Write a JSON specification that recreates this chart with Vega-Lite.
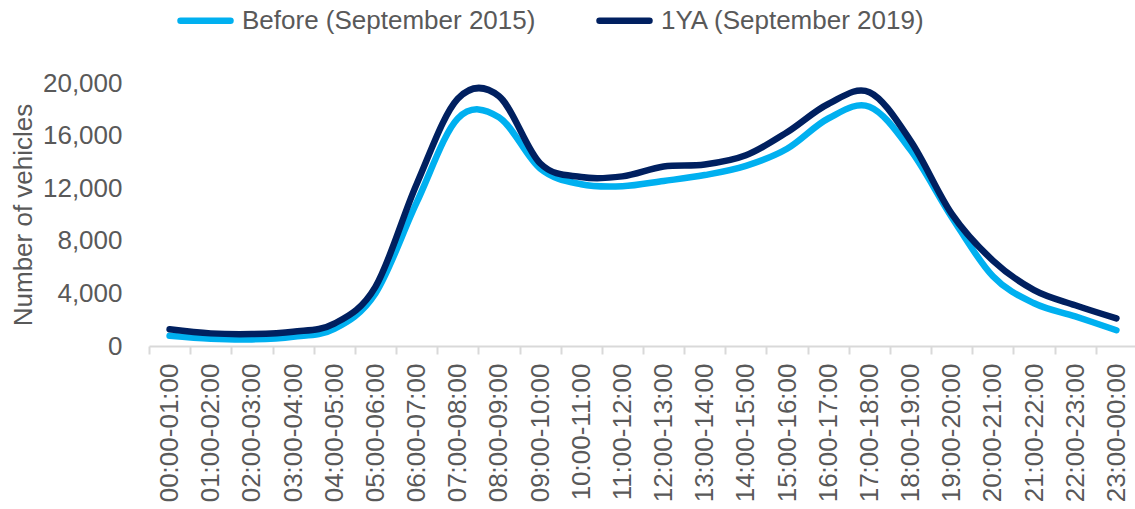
{
  "$schema": "https://vega.github.io/schema/vega-lite/v6.json",
  "width": 986,
  "height": 263,
  "autosize": "none",
  "padding": {"left": 149, "top": 83, "right": 0, "bottom": 163},
  "background": "white",
  "config": {"view": {"stroke": null}, "font": "Liberation Sans"},
  "datasets": {
    "traffic": [
      {"hour": "00:00-01:00", "series": "Before (September 2015)", "vehicles": 780},
      {"hour": "01:00-02:00", "series": "Before (September 2015)", "vehicles": 550},
      {"hour": "02:00-03:00", "series": "Before (September 2015)", "vehicles": 500},
      {"hour": "03:00-04:00", "series": "Before (September 2015)", "vehicles": 700},
      {"hour": "04:00-05:00", "series": "Before (September 2015)", "vehicles": 1300},
      {"hour": "05:00-06:00", "series": "Before (September 2015)", "vehicles": 4000},
      {"hour": "06:00-07:00", "series": "Before (September 2015)", "vehicles": 10900},
      {"hour": "07:00-08:00", "series": "Before (September 2015)", "vehicles": 17300},
      {"hour": "08:00-09:00", "series": "Before (September 2015)", "vehicles": 17400},
      {"hour": "09:00-10:00", "series": "Before (September 2015)", "vehicles": 13500},
      {"hour": "10:00-11:00", "series": "Before (September 2015)", "vehicles": 12300},
      {"hour": "11:00-12:00", "series": "Before (September 2015)", "vehicles": 12150},
      {"hour": "12:00-13:00", "series": "Before (September 2015)", "vehicles": 12550},
      {"hour": "13:00-14:00", "series": "Before (September 2015)", "vehicles": 13000},
      {"hour": "14:00-15:00", "series": "Before (September 2015)", "vehicles": 13700},
      {"hour": "15:00-16:00", "series": "Before (September 2015)", "vehicles": 15000},
      {"hour": "16:00-17:00", "series": "Before (September 2015)", "vehicles": 17300},
      {"hour": "17:00-18:00", "series": "Before (September 2015)", "vehicles": 18200},
      {"hour": "18:00-19:00", "series": "Before (September 2015)", "vehicles": 14900},
      {"hour": "19:00-20:00", "series": "Before (September 2015)", "vehicles": 9800},
      {"hour": "20:00-21:00", "series": "Before (September 2015)", "vehicles": 5300},
      {"hour": "21:00-22:00", "series": "Before (September 2015)", "vehicles": 3250},
      {"hour": "22:00-23:00", "series": "Before (September 2015)", "vehicles": 2250},
      {"hour": "23:00-00:00", "series": "Before (September 2015)", "vehicles": 1200},
      {"hour": "00:00-01:00", "series": "1YA (September 2019)", "vehicles": 1270},
      {"hour": "01:00-02:00", "series": "1YA (September 2019)", "vehicles": 960},
      {"hour": "02:00-03:00", "series": "1YA (September 2019)", "vehicles": 910},
      {"hour": "03:00-04:00", "series": "1YA (September 2019)", "vehicles": 1090},
      {"hour": "04:00-05:00", "series": "1YA (September 2019)", "vehicles": 1700},
      {"hour": "05:00-06:00", "series": "1YA (September 2019)", "vehicles": 4500},
      {"hour": "06:00-07:00", "series": "1YA (September 2019)", "vehicles": 12300},
      {"hour": "07:00-08:00", "series": "1YA (September 2019)", "vehicles": 18800},
      {"hour": "08:00-09:00", "series": "1YA (September 2019)", "vehicles": 19000},
      {"hour": "09:00-10:00", "series": "1YA (September 2019)", "vehicles": 13900},
      {"hour": "10:00-11:00", "series": "1YA (September 2019)", "vehicles": 12850},
      {"hour": "11:00-12:00", "series": "1YA (September 2019)", "vehicles": 12900},
      {"hour": "12:00-13:00", "series": "1YA (September 2019)", "vehicles": 13650},
      {"hour": "13:00-14:00", "series": "1YA (September 2019)", "vehicles": 13800},
      {"hour": "14:00-15:00", "series": "1YA (September 2019)", "vehicles": 14500},
      {"hour": "15:00-16:00", "series": "1YA (September 2019)", "vehicles": 16250},
      {"hour": "16:00-17:00", "series": "1YA (September 2019)", "vehicles": 18400},
      {"hour": "17:00-18:00", "series": "1YA (September 2019)", "vehicles": 19300},
      {"hour": "18:00-19:00", "series": "1YA (September 2019)", "vehicles": 15600},
      {"hour": "19:00-20:00", "series": "1YA (September 2019)", "vehicles": 10050},
      {"hour": "20:00-21:00", "series": "1YA (September 2019)", "vehicles": 6500},
      {"hour": "21:00-22:00", "series": "1YA (September 2019)", "vehicles": 4250},
      {"hour": "22:00-23:00", "series": "1YA (September 2019)", "vehicles": 3100},
      {"hour": "23:00-00:00", "series": "1YA (September 2019)", "vehicles": 2100}
    ]
  },
  "data": {"name": "traffic"},
  "mark": {"type": "line", "interpolate": "cardinal", "strokeWidth": 6.5, "strokeCap": "round", "strokeJoin": "round"},
  "encoding": {
    "x": {
      "field": "hour",
      "type": "ordinal",
      "sort": null,
      "bandPosition": 0.5,
      "scale": {"type": "band", "paddingInner": 0, "paddingOuter": 0, "range": [0, 988]},
      "axis": {
        "title": null,
        "labelAngle": -90,
        "labelFontSize": 26,
        "labelColor": "#595959",
        "labelFont": "Liberation Sans",
        "labelLimit": 300,
        "labelOverlap": false,
        "tickBand": "extent",
        "tickSize": 8,
        "tickColor": "#d9d9d9",
        "tickWidth": 2,
        "domainColor": "#d9d9d9",
        "domainWidth": 2,
        "labelPadding": 9,
        "grid": false
      }
    },
    "y": {
      "field": "vehicles",
      "type": "quantitative",
      "scale": {"domain": [0, 20000], "nice": false},
      "axis": {
        "values": [0, 4000, 8000, 12000, 16000, 20000],
        "format": ",.0f",
        "grid": false,
        "domain": false,
        "ticks": false,
        "labelPadding": 27,
        "labelFontSize": 26,
        "labelColor": "#595959",
        "labelFont": "Liberation Sans",
        "title": "Number of vehicles",
        "titleFont": "Liberation Sans",
        "titleFontSize": 26,
        "titleFontWeight": "normal",
        "titleColor": "#595959",
        "titleX": -126,
        "titleY": 131.5,
        "titleAngle": -90,
        "titleBaseline": "middle",
        "titleAlign": "center",
        "titleLimit": 400
      }
    },
    "color": {
      "field": "series",
      "type": "nominal",
      "sort": ["Before (September 2015)", "1YA (September 2019)"],
      "scale": {"domain": ["Before (September 2015)", "1YA (September 2019)"], "range": ["#00B0F0", "#002060"]},
      "legend": {
        "title": null,
        "orient": "none",
        "legendX": 28,
        "legendY": -91,
        "direction": "horizontal",
        "symbolType": "stroke",
        "symbolSize": 2500,
        "symbolStrokeWidth": 6.5,
        "labelFontSize": 26,
        "labelFont": "Liberation Sans",
        "labelColor": "#595959",
        "labelOffset": 8,
        "labelLimit": 400,
        "columnPadding": 50,
        "padding": 0,
        "encode": {"symbols": {"update": {"strokeCap": {"value": "round"}}}}
      }
    }
  }
}
